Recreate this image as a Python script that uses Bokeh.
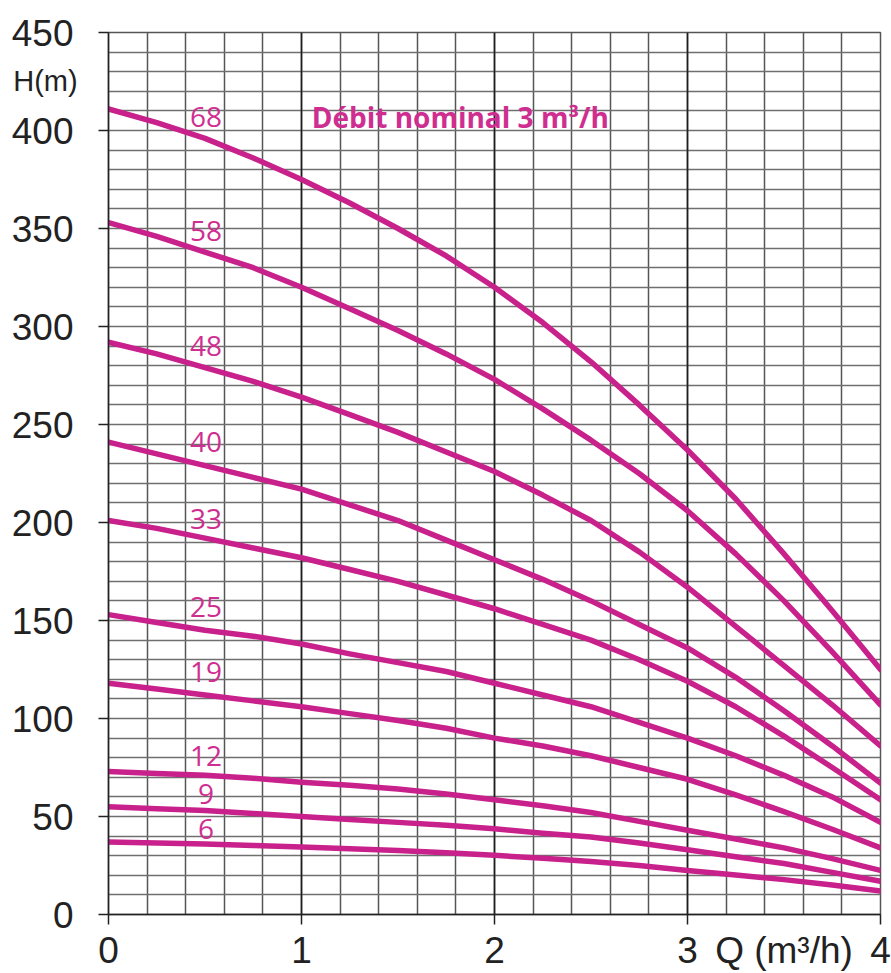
from bokeh.plotting import figure
from bokeh.models import FixedTicker, Grid, Label, Range1d
from bokeh.embed import file_html
from bokeh.resources import INLINE
from bokeh.core.properties import value

# ---- data ----
q = [0, 0.25, 0.5, 0.75, 1, 1.25, 1.5, 1.75, 2, 2.25, 2.5, 2.75, 3, 3.25, 3.5, 3.75, 4]

h68 = [411, 404, 396, 386, 375, 363, 350, 336, 320, 302, 282, 260, 237, 212, 184, 155, 125]
h58 = [353, 346, 338, 330, 320, 309, 298, 286, 273, 258, 242, 225, 206, 184, 160, 134, 107]
h48 = [292, 286, 279, 272, 264, 255, 246, 236, 226, 214, 201, 185, 167, 147, 127, 107, 86]
h40 = [241, 235, 229, 223, 217, 209, 201, 191, 181, 171, 160, 148, 136, 121, 104, 86, 67]
h33 = [201, 197, 192, 187, 182, 176, 170, 163, 156, 148, 140, 130, 119, 106, 91, 75, 58.5]
h25 = [153, 149, 145, 142, 138, 133, 128.5, 124, 118, 112, 106, 98, 90, 81, 71, 60, 47]
h19 = [118, 115, 112, 109, 106, 102.5, 99, 95, 90, 86, 81, 75, 69, 61, 52.5, 43.5, 34]
h12 = [73, 72, 71, 69.5, 67.5, 66, 64, 61.5, 58.5, 55.5, 52, 47.5, 43, 38.5, 34, 28.5, 22.5]
h9 = [55, 54, 53, 51.5, 50, 48.5, 47, 45.5, 43.7, 41.5, 39.5, 36.5, 33, 29.5, 26, 21.5, 17]
h6 = [37, 36.5, 36, 35.2, 34.4, 33.6, 32.7, 31.5, 30.2, 28.7, 27, 25, 22.5, 20.2, 17.8, 15, 12]

stages = ["68", "58", "48", "40", "33", "25", "19", "12", "9", "6"]
series = [h68, h58, h48, h40, h33, h25, h19, h12, h9, h6]

x_ticks = [0, 1, 2, 3, 4]
y_ticks = [0, 50, 100, 150, 200, 250, 300, 350, 400, 450]

title_text = "Débit nominal 3 m³/h"
y_title = "H(m)"
x_title = "Q (m³/h)"
x_title_at = 3.5   # the x title sits on the tick-label row, between 3 and 4

# ---- styling / layout ----
MAGENTA = "#C8218B"
LABEL_MAGENTA = "#CF2E91"
TEXT_DARK = "#222222"

p = figure(width=891, height=973,
           x_range=Range1d(0, 4), y_range=Range1d(0, 450),
           output_backend="svg", toolbar_location=None,
           min_border_left=108, min_border_right=11,
           min_border_top=30, min_border_bottom=59)
p.background_fill_color = "white"
p.border_fill_color = "white"
p.outline_line_color = "#555555"
p.outline_line_width = 1.5

# axes
# x axis: numeric labels on the integer ticks plus the axis title on the same row;
# visible tick marks are drawn as "minor" ticks at the integers only
p.xaxis.ticker = FixedTicker(ticks=x_ticks + [x_title_at], minor_ticks=x_ticks)
p.xaxis.major_label_overrides = {x_title_at: x_title}
p.yaxis.ticker = FixedTicker(ticks=y_ticks)
for ax in (p.xaxis, p.yaxis):
    ax.axis_line_color = TEXT_DARK
    ax.axis_line_width = 1.5
    ax.major_tick_line_color = TEXT_DARK
    ax.major_tick_line_width = 1.5
    ax.major_tick_in = 0
    ax.minor_tick_line_color = None
    ax.major_label_text_font = "Liberation Sans"
    ax.major_label_text_font_size = "37px"
    ax.major_label_text_color = TEXT_DARK
p.xaxis.major_tick_line_color = None
p.xaxis.minor_tick_line_color = TEXT_DARK
p.xaxis.minor_tick_line_width = 1.5
p.xaxis.minor_tick_in = 0
p.xaxis.minor_tick_out = 10
p.xaxis.major_tick_out = 10
p.xaxis.major_label_standoff = 5
p.yaxis.major_tick_out = 10
p.yaxis.major_label_standoff = 25

# grids
x_step = 0.2
y_step = 10
p.xgrid.ticker = FixedTicker(ticks=[round(i * x_step, 2) for i in range(int(4 / x_step) + 1)])
p.xgrid.grid_line_color = "#555555"
p.xgrid.grid_line_width = 1.5
p.ygrid.ticker = FixedTicker(ticks=list(range(0, 451, y_step)))
p.ygrid.grid_line_color = "#6f6f6f"
p.ygrid.grid_line_width = 1.6
p.add_layout(Grid(dimension=0, ticker=FixedTicker(ticks=x_ticks),
                  grid_line_color="#1e1e1e", grid_line_width=1.6))

# curves
for h in series:
    p.line(q, h, line_color=MAGENTA, line_width=5.5, line_cap="round", line_join="round")

# stage labels
label_x = 0.505
label_h = [406.9, 348.5, 290, 241.1, 201.8, 156.9, 123.9, 81, 61.5, 43.7]
p.text(x=[label_x] * len(stages), y=label_h, text=stages,
       text_font=value("Open Sans"), text_font_size="28px",
       text_align="center", text_baseline="middle", text_color=LABEL_MAGENTA)

# title inside plot
p.add_layout(Label(x=1.053, y=406.9, text=title_text,
                   text_font="Open Sans", text_font_style="bold",
                   text_font_size="28px", text_baseline="middle",
                   text_align="left", text_color=LABEL_MAGENTA))

# y axis title, kept in the top panel so that it is not clipped to the frame
p.add_layout(Label(x=-0.4935, y=425.4, text=y_title,
                   text_font="Liberation Sans", text_font_size="29px",
                   text_baseline="middle", text_align="left", text_color=TEXT_DARK), "above")

open("out.html", "w").write(file_html(p, INLINE))
